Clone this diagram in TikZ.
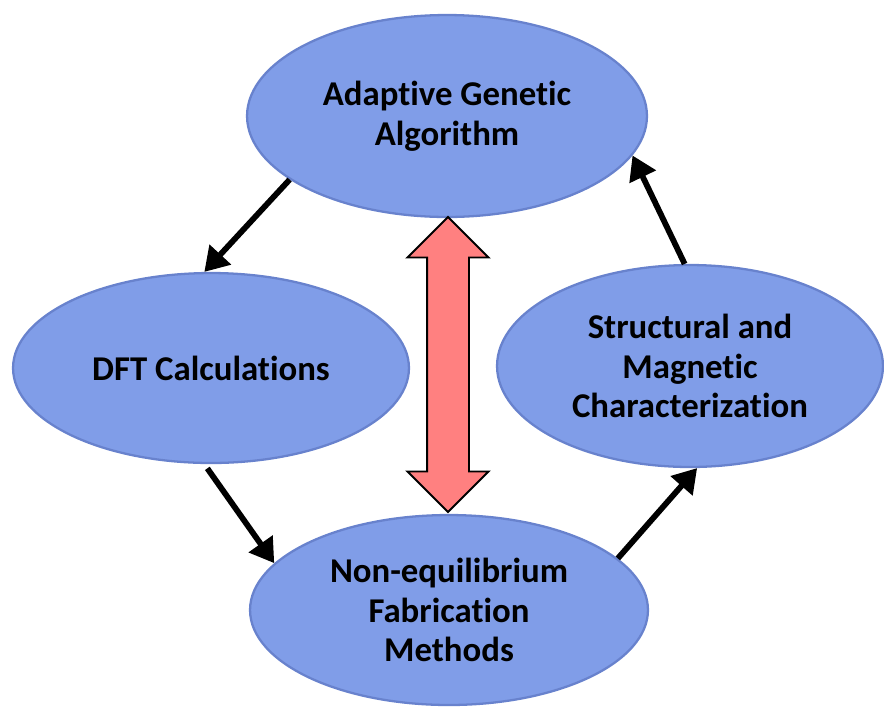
\documentclass[tikz,border=0pt]{standalone}
\usepackage{fontspec}
\setmainfont{Carlito}[Ligatures=NoCommon]
\usepackage{tikz}
\usetikzlibrary{arrows.meta,shapes.geometric,shapes.arrows}
\definecolor{ovfill}{RGB}{128,157,232}
\definecolor{ovedge}{RGB}{104,130,205}
\definecolor{pinkarr}{RGB}{255,128,128}

\begin{document}
\begin{tikzpicture}[x=0.02cm,y=-0.02cm,font=\bfseries\fontsize{19.8}{22.7}\selectfont,
 >={Triangle[length=13.5pt,width=16pt]},
 ov/.style={ellipse,draw=ovedge,line width=1.3pt,fill=ovfill,align=center,inner sep=0pt},
 ln/.style={->,line width=3.3pt}]
\useasboundingbox (0,0) rectangle (884,711);
\node[ov,minimum width=8cm,minimum height=4.04cm] (ga) at (447,116) {Adaptive Genetic\\Algorithm};
\node[ov,minimum width=7.92cm,minimum height=3.8cm] (dft) at (211,368) {DFT Calculations};
\node[ov,minimum width=7.72cm,minimum height=4.04cm] (sc) at (690,366) {Structural and\\Magnetic\\Characterization};
\node[ov,minimum width=7.96cm,minimum height=3.8cm] (fab) at (449,610) {Non-equilibrium\\Fabrication\\Methods};
\node[double arrow,draw,line width=1.1pt,fill=pinkarr,rotate=90,minimum height=5.9cm,
 inner xsep=0pt,inner ysep=0.4cm,double arrow head extend=0.39cm] (link) at (448,364.5) {};
\draw[ln] (ga.202) -- (dft.94);
\draw[ln,shorten <=3pt] (dft.266) -- (fab.165);
\draw[ln] (fab.17) -- (sc.274);
\draw[ln] (sc.93) -- (ga.348);
\end{tikzpicture}
\end{document}
